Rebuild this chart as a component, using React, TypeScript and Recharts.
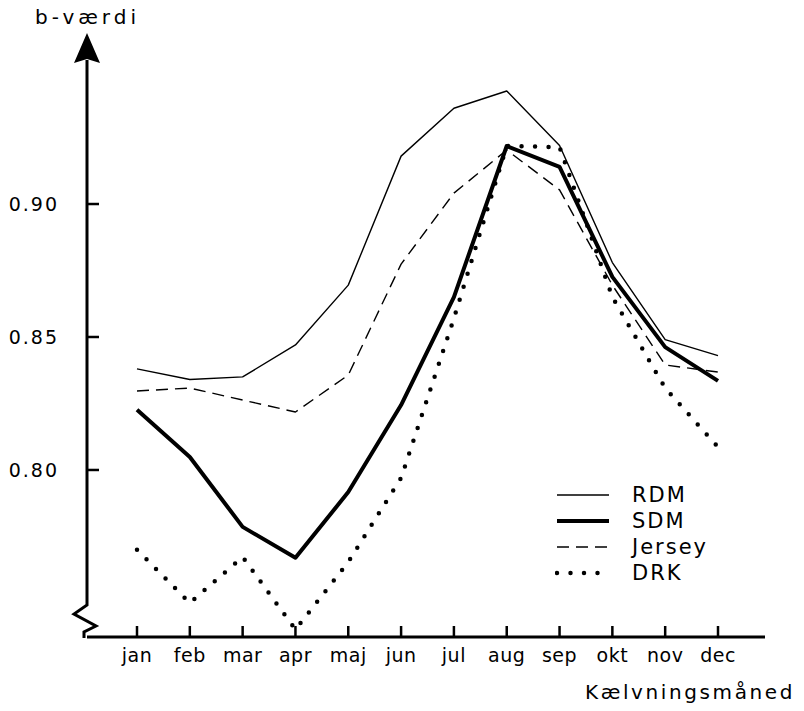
import React from 'react';
import { LineChart, Line, XAxis, YAxis, Legend } from 'recharts';

// calving month on the x axis
const months = ['jan', 'feb', 'mar', 'apr', 'maj', 'jun', 'jul', 'aug', 'sep', 'okt', 'nov', 'dec'];

// b-value per breed
const rdm = [0.838, 0.834, 0.835, 0.847, 0.8695, 0.918, 0.936, 0.9425, 0.922, 0.878, 0.849, 0.843];
const sdm = [0.8226, 0.8049, 0.7786, 0.767, 0.7917, 0.8244, 0.865, 0.9218, 0.914, 0.8726, 0.8462, 0.8335];
const jersey = [0.8297, 0.8308, 0.8263, 0.8218, 0.8357, 0.8774, 0.9041, 0.9203, 0.9053, 0.8695, 0.8395, 0.8368];
const drk = [0.77, 0.75, 0.7673, 0.74, 0.7654, 0.797, 0.857, 0.9218, 0.9214, 0.865, 0.8308, 0.8086];

const yTicks = [0.8, 0.85, 0.9];
const yDomain = [0.7372, 0.9643];

const seriesNames = ['RDM', 'SDM', 'Jersey', 'DRK'];

const data = months.map((m, i) => ({
  month: m,
  RDM: rdm[i],
  SDM: sdm[i],
  Jersey: jersey[i],
  DRK: drk[i],
}));

const FONT = '"DejaVu Sans", sans-serif';

const lineStyle: Record<string, { w: number; dash?: string; cap?: 'round' | 'butt' }> = {
  RDM: { w: 1.4 },
  SDM: { w: 4 },
  Jersey: { w: 1.4, dash: '12 7' },
  DRK: { w: 4.5, dash: '0 13.5', cap: 'round' },
};

const XTick = (props: any) => {
  const { x, y, payload } = props;
  return (
    <g>
      <line x1={x} y1={y} x2={x} y2={y - 11} stroke="#000" strokeWidth={2.5} />
      <text x={x} y={y + 25} textAnchor="middle" fontFamily={FONT} fontSize={19} letterSpacing={0.5} fill="#000">
        {payload.value}
      </text>
    </g>
  );
};

const YTick = (props: any) => {
  const { x, y, payload } = props;
  return (
    <g>
      <line x1={x} y1={y} x2={x + 12} y2={y} stroke="#000" strokeWidth={2.5} />
      <text x={x - 28} y={y + 7} textAnchor="end" fontFamily={FONT} fontSize={19} letterSpacing={2} fill="#000">
        {payload.value.toFixed(2)}
      </text>
    </g>
  );
};

const LegendBox = () => (
  <div style={{ fontFamily: FONT, fontSize: 21, color: '#000' }}>
    {seriesNames.map((name) => {
      const s = lineStyle[name];
      return (
        <div key={name} style={{ display: 'flex', alignItems: 'center', height: 26 }}>
          <svg width={56} height={26}>
            <line
              x1={2}
              y1={13}
              x2={54}
              y2={13}
              stroke="#000"
              strokeWidth={s.w}
              strokeDasharray={s.dash}
              strokeLinecap={s.cap || 'butt'}
            />
          </svg>
          <span style={{ marginLeft: 21, letterSpacing: 2 }}>{name}</span>
        </div>
      );
    })}
  </div>
);

export default function App() {
  return (
    <div style={{ position: 'absolute', left: 0, top: 0, width: 804, height: 711, background: '#fff' }}>
      <LineChart width={804} height={711} data={data} margin={{ top: 33, right: 39, bottom: 0, left: 0 }}>
        <XAxis
          dataKey="month"
          scale="point"
          padding={{ left: 50, right: 47 }}
          height={74}
          axisLine={{ stroke: '#000', strokeWidth: 3 }}
          tickLine={false}
          tickSize={0}
          tickMargin={0}
          tick={<XTick />}
          interval={0}
        />
        <YAxis
          type="number"
          domain={yDomain}
          ticks={yTicks}
          allowDataOverflow
          width={87}
          axisLine={false}
          tickLine={false}
          tickSize={0}
          tickMargin={0}
          tick={<YTick />}
        />
        <Legend
          layout="vertical"
          align="center"
          verticalAlign="middle"
          content={<LegendBox />}
          wrapperStyle={{ position: 'absolute', left: 555, top: 482, width: 200, height: 110 }}
        />
        {seriesNames.map((name) => {
          const s = lineStyle[name];
          return (
            <Line
              key={name}
              type="linear"
              dataKey={name}
              stroke="#000"
              strokeWidth={s.w}
              strokeDasharray={s.dash}
              strokeLinecap={s.cap || 'butt'}
              strokeLinejoin="round"
              dot={false}
              activeDot={false}
              isAnimationActive={false}
            />
          );
        })}
      </LineChart>
      <svg
        width={804}
        height={711}
        style={{ position: 'absolute', left: 0, top: 0, pointerEvents: 'none' }}
      >
        {/* y axis with arrow head and axis break */}
        <path d="M87,60 L87,605 L74,614 L96,626 L84,632 L84,638" fill="none" stroke="#000" strokeWidth={3} />
        <path d="M87,33 L74,63 L87,59 L100,63 Z" fill="#000" />
        <text x={35} y={24} fontFamily={FONT} fontSize={20} letterSpacing={4} fill="#000">
          b-værdi
        </text>
        <text x={585} y={699} fontFamily={FONT} fontSize={20} letterSpacing={2.6} fill="#000">
          Kælvningsmåned
        </text>
      </svg>
    </div>
  );
}
